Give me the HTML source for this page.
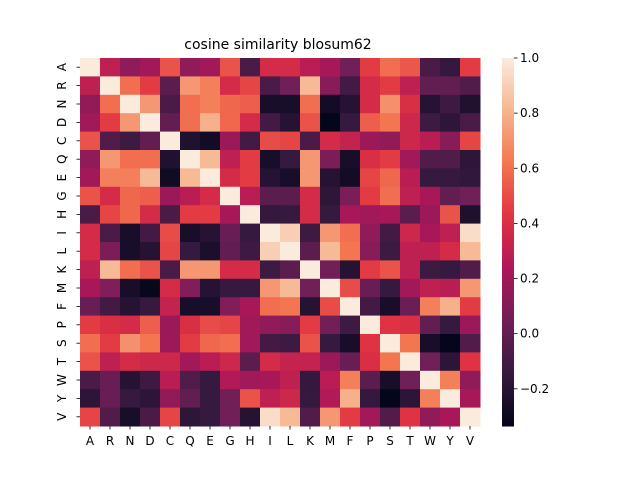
<!DOCTYPE html>
<html><head><meta charset="utf-8"><style>
body{margin:0;background:#fff;font-family:"Liberation Sans","DejaVu Sans",sans-serif}
text{font-family:"DejaVu Sans","Liberation Sans",sans-serif;fill:#000}
</style></head><body>
<svg id="chart" width="640" height="480">
<text x="278" y="49" font-size="14" text-anchor="middle">cosine similarity blosum62</text>
<g id="cells"></g><g id="xt"></g><g id="yt"></g><g id="cbar"></g>
</svg>
<script>
const labels=["A","R","N","D","C","Q","E","G","H","I","L","K","M","F","P","S","T","W","Y","V"];
const rowA=[1,0.3,0.15,0.2,0.52,0.15,0.2,0.52,-0.08,0.38,0.38,0.28,0.22,0.05,0.45,0.6,0.53,-0.08,-0.15,0.45];
const rowR=[0.3,1,0.6,0.45,-0.02,0.72,0.65,0.38,0.48,-0.08,0.05,0.83,0.12,-0.1,0.38,0.45,0.3,0,0,-0.05];
const rowN=[0.15,0.6,1,0.72,-0.08,0.6,0.65,0.58,0.55,-0.25,-0.25,0.6,-0.27,-0.2,0.38,0.7,0.4,-0.2,-0.12,-0.22];
const rowD=[0.2,0.45,0.72,1,0,0.6,0.8,0.58,0.38,-0.1,-0.2,0.52,-0.33,-0.14,0.55,0.62,0.35,-0.12,-0.17,-0.08];
const rowC=[0.52,-0.05,-0.12,0,1,-0.22,-0.27,0.18,-0.1,0.5,0.48,-0.08,0.38,0.32,0.18,0.15,0.35,0.28,0.12,0.48];
const rowQ=[0.15,0.72,0.6,0.6,-0.22,1,0.83,0.3,0.45,-0.25,-0.14,0.72,0.08,-0.25,0.4,0.45,0.2,-0.05,-0.05,-0.17];
const rowE=[0.2,0.65,0.65,0.83,-0.28,0.83,1,0.38,0.45,-0.2,-0.25,0.72,-0.2,-0.27,0.48,0.58,0.28,-0.14,-0.14,-0.16];
const rowG=[0.52,0.38,0.58,0.55,0.18,0.28,0.38,1,0.28,-0.02,-0.02,0.38,-0.17,0.08,0.45,0.6,0.3,0.22,0,0.05];
const rowH=[-0.08,0.48,0.58,0.38,-0.08,0.45,0.45,0.22,1,-0.15,-0.14,0.38,-0.14,0.22,0.2,0.22,-0.02,0.18,0.52,-0.23];
const rowI=[0.38,-0.08,-0.25,-0.1,0.5,-0.25,-0.2,0.02,-0.14,1,0.9,-0.12,0.72,0.6,0.15,-0.1,0.35,0.22,0.3,0.95];
const rowL=[0.38,0.08,-0.25,-0.2,0.48,-0.14,-0.24,0,-0.12,0.9,1,-0.02,0.83,0.62,0.12,-0.12,0.3,0.3,0.38,0.83];
const rowK=[0.3,0.83,0.6,0.52,-0.08,0.72,0.72,0.38,0.38,-0.12,-0.02,1,0.05,-0.2,0.45,0.52,0.3,-0.12,-0.14,-0.05];
const rowM=[0.22,0.1,-0.25,-0.32,0.38,0.1,-0.2,-0.14,-0.14,0.72,0.83,0.05,1,0.5,0.02,-0.14,0.2,0.3,0.28,0.72];
const rowF=[0.02,-0.1,-0.2,-0.14,0.32,-0.25,-0.25,0.1,0.22,0.6,0.62,-0.2,0.5,1,-0.1,-0.25,0.03,0.65,0.8,0.45];
const rowP=[0.45,0.4,0.38,0.55,0.18,0.4,0.5,0.48,0.2,0.15,0.12,0.45,0.05,-0.12,1,0.42,0.4,0,-0.14,0.18];
const rowS=[0.6,0.45,0.7,0.62,0.18,0.45,0.58,0.6,0.2,-0.1,-0.12,0.52,-0.14,-0.25,0.42,1,0.62,-0.25,-0.33,-0.05];
const rowT=[0.52,0.3,0.38,0.35,0.35,0.2,0.28,0.35,-0.02,0.38,0.32,0.32,0.18,0.02,0.4,0.62,1,0.05,-0.18,0.42];
const rowW=[-0.08,0.02,-0.2,-0.12,0.28,-0.05,-0.14,0.25,0.2,0.22,0.3,-0.15,0.28,0.65,-0.02,-0.25,0.05,1,0.65,0.15];
const rowY=[-0.18,0.02,-0.14,-0.18,0.15,0,-0.14,0.05,0.52,0.3,0.35,-0.14,0.25,0.8,-0.15,-0.33,-0.18,0.65,1,0.22];
const rowV=[0.48,-0.05,-0.25,-0.08,0.48,-0.17,-0.14,0.05,-0.2,0.95,0.83,-0.05,0.72,0.45,0.2,-0.05,0.42,0.15,0.22,1];
const matrix=[rowA,rowR,rowN,rowD,rowC,rowQ,rowE,rowG,rowH,rowI,rowL,rowK,rowM,rowF,rowP,rowS,rowT,rowW,rowY,rowV];
const cbTicks=[-0.2,0,0.2,0.4,0.6,0.8,1.0];
const cbLabels=["\u22120.2","0.0","0.2","0.4","0.6","0.8","1.0"];
const vmin=-0.335,vmax=1.0;
const X0=80,Y0=58,W=400,H=368;
const stops=[[3,5,26],[53,25,62],[112,31,87],[173,23,89],[225,51,66],[243,118,81],[246,180,143],[250,235,221]];
function cmap(v){let t=Math.max(0,Math.min(1,(v-vmin)/(vmax-vmin)))*(stops.length-1);let i=Math.min(stops.length-2,Math.floor(t)),f=t-i;const a=stops[i],b=stops[i+1];return `rgb(${a.map((c,k)=>Math.round(c+(b[k]-c)*f)).join(',')})`;}
const NS="http://www.w3.org/2000/svg";
function mk(tag,attrs,parent){const e=document.createElementNS(NS,tag);for(const k in attrs)e.setAttribute(k,attrs[k]);parent.appendChild(e);return e;}
const n=labels.length,cw=W/n,ch=H/n;
const xS=i=>X0+i*cw,yS=j=>Y0+j*ch;
const cells=document.getElementById('cells');
matrix.forEach((row,j)=>row.forEach((v,i)=>{
 const r=mk('rect',{x:xS(i),y:yS(j),width:cw+0.5,height:ch+0.5,fill:cmap(v)},cells);
 
 
}));
const xt=document.getElementById('xt'),yt=document.getElementById('yt');
labels.forEach((l,i)=>{
 const cx=xS(i)+cw/2;
 mk('line',{x1:cx,x2:cx,y1:Y0+H,y2:Y0+H+3.5,stroke:'#000','stroke-width':0.8},xt);
 const t=mk('text',{x:cx,y:Y0+H+19,'font-size':12,'text-anchor':'middle'},xt);t.textContent=l;
 
 
 const cy=yS(i)+ch/2;
 mk('line',{x1:X0-3.5,x2:X0,y1:cy,y2:cy,stroke:'#000','stroke-width':0.8},yt);
 const u=mk('text',{x:0,y:0,'font-size':12,'text-anchor':'middle',transform:`translate(66,${cy}) rotate(-90)`},yt);u.textContent=l;
 
 
});
const cb=document.getElementById('cbar');
const CX=502,CW=12;
const cyS=v=>Y0+(vmax-v)/(vmax-vmin)*H;
for(let k=0;k<200;k++){const v0=vmin+(vmax-vmin)*k/200,v1=vmin+(vmax-vmin)*(k+1)/200;
 mk('rect',{x:CX,y:cyS(v1),width:CW,height:cyS(v0)-cyS(v1)+0.5,fill:cmap((v0+v1)/2)},cb);}


cbTicks.forEach((v,k)=>{const y=cyS(v);
 mk('line',{x1:CX+CW,x2:CX+CW+3.5,y1:y,y2:y,stroke:'#000','stroke-width':0.8},cb);
 const t=mk('text',{x:CX+CW+6,y:y+4,'font-size':12},cb);t.textContent=cbLabels[k];
 
 
});
</script>
</body></html>
